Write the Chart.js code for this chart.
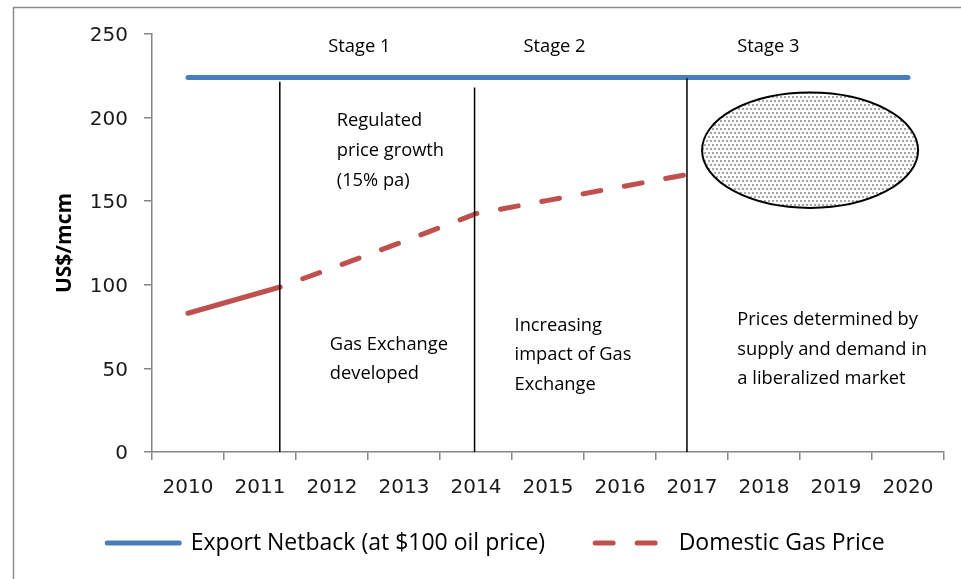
<!DOCTYPE html>
<html><head><meta charset="utf-8">
<script src="https://cdn.jsdelivr.net/npm/chart.js@4"></script>
<style>html,body{margin:0;padding:0;background:#fff}#wrap{width:961px;height:579px;position:relative}</style>
</head><body><div id="wrap"><canvas id="c" width="961" height="579"></canvas></div>
<script>
// ---- data ----
const years = [2010, 2011, 2012, 2013, 2014, 2015, 2016, 2017, 2018, 2019, 2020];
const exportNetback = [224, 224, 224, 224, 224, 224, 224, 224, 224, 224, 224];
const gasYears = [2010, 2011.28, 2012, 2013, 2014, 2015, 2016, 2017];
const gasPrice = [83, 98.7, 110, 126, 142.5, 150.5, 158.5, 166.5];
const yTicks = [0, 50, 100, 150, 200, 250];
const stageBounds = [2011.275, 2013.98, 2016.93];
const stageLabels = ['Stage 1', 'Stage 2', 'Stage 3'];
const stage1Note = ['Regulated', 'price growth', '(15% pa)'];
const stage1Lower = ['Gas Exchange', 'developed'];
const stage2Note = ['Increasing', 'impact of Gas', 'Exchange'];
const stage3Note = ['Prices determined by', 'supply and demand in', 'a liberalized market'];
const seriesNames = ['Export Netback (at $100 oil price)', 'Domestic Gas Price'];

const TEXT_FONT = '"Open Sans", Lato, sans-serif';
const TICK_FONT = '"DejaVu Sans", Verdana, sans-serif';

function dotPattern(ctx) {
  const c = document.createElement('canvas');
  c.width = 8; c.height = 8;
  const p = c.getContext('2d');
  p.fillStyle = '#ffffff'; p.fillRect(0, 0, 8, 8);
  p.fillStyle = '#a0a0a0';
  [[1,1],[5,1],[3,5],[7,5]].forEach(([a,b]) => { p.beginPath(); p.arc(a, b, 1.15, 0, Math.PI*2); p.fill(); });
  return ctx.createPattern(c, 'repeat');
}

const overlay = {
  id: 'overlay',
  afterLayout(chart) {
    // let the x tick labels draw below the (tight) axis box
    chart.scales.x.bottom = chart.height;
  },
  beforeDraw(chart) {
    const ctx = chart.ctx;
    ctx.save();
    ctx.fillStyle = '#fff';
    ctx.fillRect(0, 0, chart.width, chart.height);
    ctx.strokeStyle = '#8c8c8c';
    ctx.lineWidth = 1.5;
    ctx.strokeRect(13.5, 7.5, chart.width + 40, chart.height + 40);
    ctx.restore();
  },
  afterDatasetsDraw(chart) {
    const {ctx, scales: {x, y}} = chart;
    ctx.save();
    // stage boundaries
    const tops = [221.5, 218, 223.5];
    ctx.strokeStyle = '#000';
    ctx.lineWidth = 1.5;
    stageBounds.forEach((b, i) => {
      const px = x.getPixelForValue(b);
      ctx.beginPath();
      ctx.moveTo(px, y.getPixelForValue(tops[i]));
      ctx.lineTo(px, y.getPixelForValue(0));
      ctx.stroke();
    });
    // ellipse
    const cx = x.getPixelForValue(2018.64), cy = y.getPixelForValue(180.5);
    const rx = x.getPixelForValue(2018.64 + 1.5) - cx;
    const ry = y.getPixelForValue(180.5) - y.getPixelForValue(180.5 + 34.5);
    ctx.beginPath();
    ctx.ellipse(cx, cy, rx, ry, 0, 0, Math.PI * 2);
    ctx.fillStyle = dotPattern(ctx);
    ctx.fill();
    ctx.lineWidth = 2;
    ctx.strokeStyle = '#000';
    ctx.stroke();
    // texts
    ctx.fillStyle = '#000';
    ctx.textBaseline = 'middle';
    ctx.font = '18.3px ' + TEXT_FONT;
    ctx.textAlign = 'center';
    const stageX = [2012.38, 2015.09, 2018.06];
    stageLabels.forEach((s, i) => ctx.fillText(s, x.getPixelForValue(stageX[i]), y.getPixelForValue(242.6)));
    ctx.textAlign = 'left';
    const block = (lines, xv, yv, lh) => {
      const px = x.getPixelForValue(xv), py = y.getPixelForValue(yv);
      lines.forEach((t, i) => ctx.fillText(t, px, py + i * lh));
    };
    block(stage1Note, 2012.066, 197.8, 30);
    block(stage1Lower, 2011.97, 64.3, 29);
    block(stage2Note, 2014.535, 75.6, 29.5);
    block(stage3Note, 2017.63, 78.8, 29.5);
    ctx.restore();
  }
};

new Chart(document.getElementById('c'), {
  type: 'line',
  data: {
    datasets: [
      {
        label: seriesNames[0],
        data: years.map((yr, i) => ({x: yr, y: exportNetback[i]})),
        borderColor: '#4a7ebb',
        backgroundColor: '#4a7ebb',
        borderWidth: 5,
        borderCapStyle: 'round',
        pointRadius: 0,
        tension: 0
      },
      {
        label: seriesNames[1],
        data: gasYears.map((yr, i) => ({x: yr, y: gasPrice[i]})),
        borderColor: '#c0504d',
        backgroundColor: '#c0504d',
        borderWidth: 5,
        borderCapStyle: 'round',
        borderDash: [18, 24],
        pointRadius: 0,
        tension: 0,
        segment: {
          borderDash: ctx => ctx.p0DataIndex === 0 ? [] : undefined,
          borderDashOffset: ctx => ctx.p0DataIndex === 0 ? 0 : 18
        }
      }
    ]
  },
  options: {
    responsive: false,
    animation: false,
    layout: {padding: {top: 34, right: 17, bottom: 14.5, left: 48}},
    plugins: {
      tooltip: {enabled: false},
      legend: {
        position: 'bottom',
        labels: {
          usePointStyle: true,
          pointStyle: 'line',
          pointStyleWidth: 72,
          boxHeight: 23,
          padding: 50,
          color: '#000',
          font: {family: TEXT_FONT, size: 23},
          generateLabels: chart => {
            const items = Chart.defaults.plugins.legend.labels.generateLabels(chart);
            items.forEach(it => {
              const ds = chart.data.datasets[it.datasetIndex];
              it.lineDash = ds.borderDash || [];
              it.lineDashOffset = 0;
              it.lineWidth = ds.borderWidth;
              it.strokeStyle = ds.borderColor;
              it.lineCap = 'round';
            });
            return items;
          }
        }
      }
    },
    scales: {
      x: {
        type: 'linear',
        min: 2009.5,
        max: 2020.5,
        afterBuildTicks: s => { s.ticks = years.map(v => ({value: v})); },
        afterFit: s => { s.height = 29.5; },
        grid: {offset: true, drawOnChartArea: false, tickLength: 8, color: '#868686', lineWidth: 1.5},
        border: {color: '#868686', width: 1.5},
        ticks: {
          callback: v => String(v),
          color: '#1a1a1a',
          padding: 16,
          maxRotation: 0,
          autoSkip: false,
          font: {family: TICK_FONT, size: 20}
        }
      },
      y: {
        min: 0,
        max: 250,
        afterBuildTicks: s => { s.ticks = yTicks.map(v => ({value: v})); },
        afterFit: s => { s.width = 104; },
        grid: {drawOnChartArea: false, tickLength: 8, color: '#868686', lineWidth: 1.5},
        border: {color: '#868686', width: 1.5},
        ticks: {
          color: '#1a1a1a',
          padding: 16,
          labelOffset: 2,
          font: {family: TICK_FONT, size: 20}
        },
        title: {
          display: true,
          text: 'US$/mcm',
          color: '#000',
          font: {family: TEXT_FONT, size: 21, weight: 'bold'},
          padding: {top: 4, bottom: 0}
        }
      }
    }
  },
  plugins: [overlay]
});
</script>
</body></html>
